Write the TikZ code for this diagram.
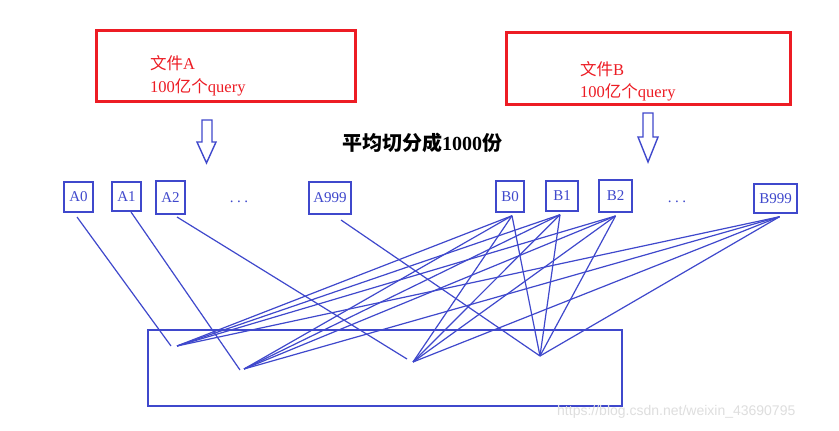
\documentclass[tikz,border=0pt]{standalone}
\usepackage{fontspec}
\setmainfont{Liberation Serif}
\newfontfamily\cjk{Noto Sans CJK SC}
\newfontfamily\wmfont{Liberation Sans}
\definecolor{bl}{RGB}{63,72,204}
\definecolor{rd}{RGB}{237,28,36}
\definecolor{wm}{RGB}{222,222,222}
\begin{document}
\begin{tikzpicture}[x=1pt,y=-1pt,
  part/.style={draw=bl,line width=1.5pt,inner sep=0pt,text=bl,font=\fontsize{15}{15}\selectfont},
  dots/.style={text=bl,font=\fontsize{15}{15}\selectfont,anchor=base,inner sep=0pt},
  link/.style={draw=bl,line width=1.2pt},
  redbox/.style={draw=rd,line width=3pt},
  redtext/.style={text=rd,font=\fontsize{16.5}{16.5}\selectfont,anchor=base west,inner sep=0pt},
  hollow/.style={draw=bl,line width=1.4pt,fill=white,line join=miter}]
\useasboundingbox (0,0) rectangle (839,431);
\fill[white] (0,0) rectangle (839,431);
% red boxes
\draw[redbox] (96,30) rectangle (355,101);
\draw[redbox] (506,32) rectangle (790,104);
\node[redtext] (ta1) at (150,69) {{\cjk 文件}A};
\node[redtext] (ta2) at (150,92) {100{\cjk 亿个}query};
\node[redtext] (tb1) at (580,75) {{\cjk 文件}B};
\node[redtext] (tb2) at (580,97) {100{\cjk 亿个}query};
% hollow arrows
\draw[hollow] (202,120) -- (212,120) -- (212,142) -- (216,142) -- (206.5,163) -- (197,142) -- (202,142) -- cycle;
\draw[hollow] (643,113) -- (653,113) -- (653,137) -- (658,137) -- (648,162) -- (638,137) -- (643,137) -- cycle;
% title
\node[anchor=base west,inner sep=0pt,font=\fontsize{20}{20}\selectfont\bfseries] (title) at (342,150) {{\cjk\bfseries 平均切分成}1000{\cjk\bfseries 份}};
% part nodes
\node[part,minimum width=29pt,minimum height=30pt] (A0) at (78.5,197) {A0};
\node[part,minimum width=29pt,minimum height=29pt] (A1) at (126.5,196.5) {A1};
\node[part,line width=2pt,minimum width=29pt,minimum height=33pt] (A2) at (170.5,197.5) {A2};
\node[dots] (Ad) at (239,202) {.\hspace{3.5pt}.\hspace{3.5pt}.};
\node[part,minimum width=42pt,minimum height=32pt] (A999) at (330,198) {A999};
\node[part,minimum width=28pt,minimum height=31pt] (B0) at (510,196.5) {B0};
\node[part,minimum width=32pt,minimum height=30pt] (B1) at (562,196) {B1};
\node[part,line width=2pt,minimum width=33pt,minimum height=32pt] (B2) at (615.5,196) {B2};
\node[dots] (Bd) at (677,202) {.\hspace{3.5pt}.\hspace{3.5pt}.};
\node[part,minimum width=43pt,minimum height=29pt] (B999) at (775.5,198.5) {B999};
% bottom box
\draw[draw=bl,line width=2pt] (148,330) rectangle (622,406);
% targets
\coordinate (P1) at (177,346);
\coordinate (P2) at (244,371);
\coordinate (P3) at (410,364);
\coordinate (P4) at (540,356);
\coordinate (a0s) at (77,217);
\coordinate (a1s) at (131,212);
\coordinate (a2s) at (177,217);
\coordinate (a999s) at (341,220);
\draw[link] (a0s) -- (171,346);
\draw[link] (a1s) -- (240,370);
\draw[link] (a2s) -- (407,359);
\draw[link] (a999s) -- (P4);
% B links
\foreach \b/\dx in {B0/2,B1/-2,B2/0,B999/4}{
  \draw[link] ([xshift=\dx pt,yshift=-3pt]\b.south) -- (P1);
  \draw[link] ([xshift=\dx pt,yshift=-3pt]\b.south) -- ([yshift=2pt]P2);
  \draw[link] ([xshift=\dx pt,yshift=-3pt]\b.south) -- ([xshift=3pt,yshift=2pt]P3);
  \draw[link] ([xshift=\dx pt,yshift=-3pt]\b.south) -- (P4);
}
% watermark
\node[text=wm,font=\wmfont\fontsize{14}{14}\selectfont,anchor=west,inner sep=0pt] (wmk) at (557,412) {https://blog.csdn.net/weixin\_43690795};
\end{tikzpicture}
\end{document}
